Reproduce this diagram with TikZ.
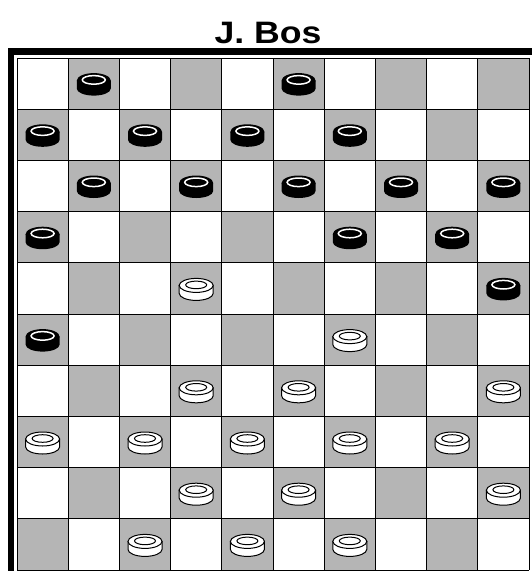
\documentclass[tikz,border=0pt]{standalone}
\usepackage{fontspec}
\setmainfont{Liberation Sans}
\begin{document}
\begin{tikzpicture}[x=1pt,y=-1pt,
  darksq/.style={fill=black!29},
  gridline/.style={draw=black,line width=0.8pt},
  frame/.style={fill=black},
  wpiece/.pic={
    \filldraw[fill=white,line width=1pt] (-17,0) -- (-17,8)
      arc[start angle=180,end angle=0,x radius=17,y radius=7] -- (17,0) -- cycle;
    \filldraw[fill=white,line width=1pt] (0,0) ellipse[x radius=17,y radius=7];
    \draw[line width=1pt] (0,-0.5) ellipse[x radius=10.5,y radius=3.8];
  },
  bpiece/.pic={
    \fill[black] (-17,0) -- (-17,8)
      arc[start angle=180,end angle=0,x radius=17,y radius=7] -- (17,0) -- cycle;
    \fill[black] (0,0) ellipse[x radius=17,y radius=7.5];
    \draw[white,line width=1.5pt] (0,-0.7) ellipse[x radius=11.5,y radius=4.3];
  }]
\useasboundingbox (0,0) rectangle (532,571);
\def\xo{17}\def\yo{58}\def\cs{51.2}
% title
\node[anchor=base,inner sep=0pt] (title) at (268,43)
  {\scalebox{1.15}[1]{\fontsize{31}{33}\selectfont\bfseries J. Bos}};
% thick frame
\fill[frame] (8,48) rectangle (532,55);
\fill[frame] (8,48) rectangle (14,571);
% squares
\foreach \r in {0,...,9}{
  \foreach \c in {0,...,9}{
    \pgfmathtruncatemacro{\sqpar}{mod(\r+\c,2)}
    \ifnum\sqpar=1
      \fill[darksq] (\xo+\c*\cs,\yo+\r*\cs) rectangle ++(\cs,\cs);
    \fi
  }
}
\foreach \i in {0,...,10}{
  \draw[gridline] (\xo+\i*\cs,\yo) -- (\xo+\i*\cs,\yo+10*\cs);
  \draw[gridline] (\xo,\yo+\i*\cs) -- (\xo+10*\cs,\yo+\i*\cs);
}
% black pieces
\foreach \r/\c in {0/1,0/5,1/0,1/2,1/4,1/6,2/1,2/3,2/5,2/7,2/9,3/0,3/6,3/8,4/9,5/0}{
  \pic at (\xo+\c*\cs+0.5*\cs,\yo+\r*\cs+0.5*\cs-3) {bpiece};
}
% white pieces
\foreach \r/\c in {4/3,5/6,6/3,6/5,6/9,7/0,7/2,7/4,7/6,7/8,8/3,8/5,8/9,9/2,9/4,9/6}{
  \pic at (\xo+\c*\cs+0.5*\cs,\yo+\r*\cs+0.5*\cs-3) {wpiece};
}
\end{tikzpicture}
\end{document}
